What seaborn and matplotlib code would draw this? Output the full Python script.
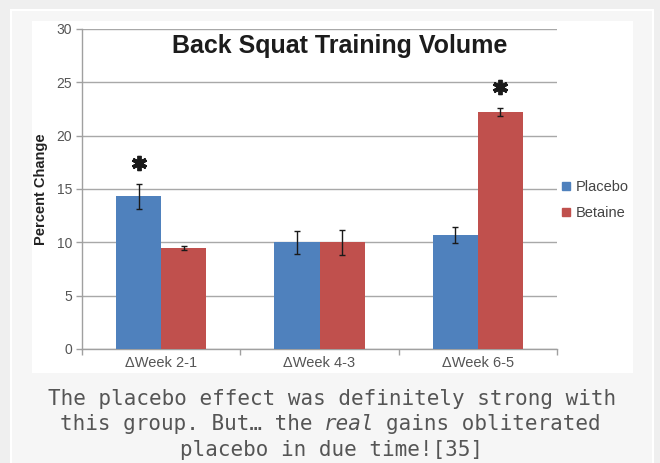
import matplotlib
matplotlib.use("Agg")
import matplotlib.pyplot as plt
from matplotlib.patches import Rectangle
from matplotlib.lines import Line2D
import seaborn as sns
import pandas as pd

# ---- data -------------------------------------------------------------
weeks = ["\u0394Week 2-1", "\u0394Week 4-3", "\u0394Week 6-5"]
groups = ["Placebo", "Betaine"]
placebo = [14.3, 10.0, 10.7]
betaine = [9.5, 10.0, 22.2]
placebo_err = [1.15, 1.05, 0.75]
betaine_err = [0.2, 1.2, 0.4]
# (group, week index) pairs flagged as significant
significant = [("Placebo", 0), ("Betaine", 2)]
yticks = [0, 5, 10, 15, 20, 25, 30]
title = "Back Squat Training Volume"
ylabel = "Percent Change"
caption_lines = [
    "The placebo effect was definitely strong with",
    "this group. But\u2026 the real gains obliterated",
    "placebo in due time![35]",
]
caption_italic_word = "real"

colors = {"Placebo": "#4f81bd", "Betaine": "#c0504d"}

df = pd.DataFrame({
    "week": weeks * 2,
    "group": ["Placebo"] * 3 + ["Betaine"] * 3,
    "value": placebo + betaine,
    "err": placebo_err + betaine_err,
})

# ---- figure & framing -------------------------------------------------
W, H = 660, 463
sns.set_theme(style="white")
plt.rcParams["font.family"] = ["Liberation Sans", "DejaVu Sans"]

fig = plt.figure(figsize=(W / 100, H / 100), dpi=100, facecolor="#efefef")


def px_rect(x0, y0, x1, y1):
    """Figure-fraction rectangle from pixel corners (origin top-left)."""
    return (x0 / W, 1 - y1 / H, (x1 - x0) / W, (y1 - y0) / H)


bx = px_rect(11, 10, 653, 470)
fig.patches.append(Rectangle(bx[:2], bx[2], bx[3], transform=fig.transFigure,
                             facecolor="#f6f6f6", edgecolor="white", lw=1.5, zorder=-2))
wp = px_rect(32, 21, 633, 373)
fig.patches.append(Rectangle(wp[:2], wp[2], wp[3], transform=fig.transFigure,
                             facecolor="white", edgecolor="none", zorder=-1))

ax = fig.add_axes(px_rect(82, 29, 557, 349))
ax.set_facecolor("none")

sns.barplot(data=df, x="week", y="value", hue="group", hue_order=groups,
            order=weeks, palette=colors, width=0.57, gap=0, errorbar=None,
            saturation=1, legend=False, ax=ax, zorder=3, linewidth=0,
            edgecolor="none")

# error bars and significance markers, positioned from the drawn bars
for grp, cont in zip(groups, ax.containers):
    sub = df[df["group"] == grp].set_index("week").loc[weeks]
    xs = [b.get_x() + b.get_width() / 2 for b in cont]
    ax.errorbar(xs, sub["value"], yerr=sub["err"], fmt="none",
                ecolor="#1a1a1a", elinewidth=1.0, capsize=2.5, capthick=1.0, zorder=4)
    for g, i in significant:
        if g == grp:
            top = sub["value"].iloc[i] + sub["err"].iloc[i]
            ax.plot(xs[i], top + 2.0, marker=(6, 2, 0), markersize=11,
                    markeredgewidth=2.8, color="#1a1a1a", zorder=5)

ax.set_ylim(0, 30)
ax.set_xlim(-0.5, 2.5)
ax.set_yticks(yticks)
ax.yaxis.grid(True, color="#a8a8a8", lw=1.0)
ax.set_axisbelow(True)
for s in ["top", "right"]:
    ax.spines[s].set_visible(False)
for s in ["left", "bottom"]:
    ax.spines[s].set_color("#a0a0a0")
    ax.spines[s].set_linewidth(1.0)
ax.tick_params(axis="y", length=4, width=1, color="#a0a0a0", pad=3,
               labelsize=10, labelcolor="#555555", left=True)
ax.tick_params(axis="x", length=0, pad=5, labelsize=10.5, labelcolor="#555555")
ax.set_xticks([-0.5, 0.5, 1.5, 2.5], minor=True)
ax.tick_params(axis="x", which="minor", length=4, width=1, color="#a0a0a0", bottom=True)
ax.set_xlabel("")
ax.set_ylabel(ylabel, fontsize=10.5, fontweight="bold", color="#222222", labelpad=6)

# title sits inside the plotting area
fig.text(340 / W, 1 - 53 / H, title, ha="center", va="baseline",
         fontsize=18, fontweight="bold", color="#1c1c1c", zorder=6)

handles = [Line2D([], [], marker="s", ls="none", markersize=6,
                  color=colors[g]) for g in groups]
ax.legend(handles, groups, loc="center left", frameon=False,
          bbox_to_anchor=(562 / W, 1 - 200 / H), bbox_transform=fig.transFigure,
          fontsize=10.5, handlelength=0.6, handletextpad=0.35,
          labelspacing=0.85, borderpad=0, borderaxespad=0,
          labelcolor="#444444")

# ---- caption (monospace, one italic word) -----------------------------
cap_fs = 15
char_w = cap_fs * (100 / 72) * 0.602
baselines = [405, 430, 456]
cap_kw = dict(family="DejaVu Sans Mono", fontsize=cap_fs, color="#555555",
              ha="left", va="baseline")
for line, yb in zip(caption_lines, baselines):
    x0 = W / 2 - len(line) * char_w / 2
    y = 1 - yb / H
    idx = line.find(caption_italic_word)
    if idx < 0:
        fig.text(x0 / W, y, line, **cap_kw)
        continue
    end = idx + len(caption_italic_word)
    before, word, after = line[:idx].rstrip(), line[idx:end], line[end:].lstrip()
    fig.text(x0 / W, y, before, **cap_kw)
    fig.text((x0 + idx * char_w) / W, y, word, style="italic", **cap_kw)
    fig.text((x0 + (end + 1) * char_w) / W, y, after, **cap_kw)

fig.savefig("out.png", dpi=100, facecolor=fig.get_facecolor())
